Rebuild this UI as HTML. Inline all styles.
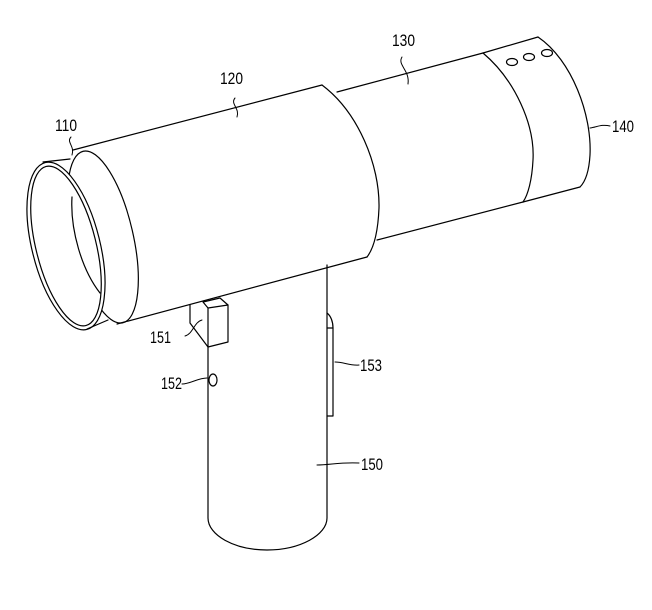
<!DOCTYPE html>
<html><head><meta charset="utf-8"><style>
html,body{margin:0;padding:0;background:#fff;}
svg{display:block}
text{font-family:"Liberation Sans",sans-serif;font-size:17px;fill:#000}
</style></head><body>
<svg width="652" height="610" viewBox="0 0 652 610" fill="none" stroke="#000" stroke-width="1.2" stroke-linejoin="round" stroke-linecap="round">
<!-- 140 segment -->
<path d="M483,53 L538,37"/>
<path d="M538,37 C572,60 592,115 590,155 C589,172 585,182 580,187"/>
<path d="M523,202 L580,187"/>
<path d="M483,53 C515,80 535,125 533,160 C532,180 528,195 523,202"/>
<ellipse cx="512" cy="62" rx="5.5" ry="3.5"/>
<ellipse cx="529" cy="57" rx="5.5" ry="3.5"/>
<ellipse cx="547" cy="53" rx="5.5" ry="3.5"/>
<!-- 130 -->
<path d="M337,92 L483,53"/>
<path d="M377,240 L523,202"/>
<!-- 120 -->
<path d="M73,150 L322,85"/>
<path d="M322,85 C358,112 380,165 379,208 C378,232 374,248 367,257"/>
<path d="M117,324 L367,257"/>
<!-- flange 110 -->
<ellipse cx="103" cy="237" rx="30" ry="88" transform="rotate(-13 103 237)"/>
<ellipse cx="66" cy="246" rx="34" ry="86" transform="rotate(-14 66 246)" fill="#fff"/>
<ellipse cx="66" cy="246" rx="30" ry="82" transform="rotate(-14 66 246)"/>
<path d="M43,162 L70,159"/>
<path d="M87,329 L108,320"/>
<path d="M72,197 C70,230 82,270 100,293"/>
<!-- handle -->
<path d="M327,265 L327,518 C327,535 300,550 267,550 C234,550 208,535 208,518 L208,347"/>
<!-- 153 -->
<path d="M327,313 C331,316 333,322 333,328 L333,416 L327,416"/>
<path d="M327,328 L333,328"/>
<!-- 151 -->
<path d="M190,305 L190,323 L208,347"/>
<path d="M203,302 L220,298 L228,305 L208,308 Z"/>
<path d="M208,308 L208,347 L228,342 L228,305"/>
<!-- 152 -->
<ellipse cx="213" cy="380" rx="4" ry="6"/>
<!-- leaders -->
<path d="M71,137 C66,142 75,146 72,155" stroke-width="1"/>
<path d="M235,98 C230,104 240,108 237,117" stroke-width="1"/>
<path d="M402,57 C397,65 410,70 408,84" stroke-width="1"/>
<path d="M590,128 C597,127 602,124 610,126" stroke-width="1"/>
<path d="M185,336 C193,334 194,322 202,320" stroke-width="1"/>
<path d="M182,384 C190,384 198,378 207,378" stroke-width="1"/>
<path d="M335,362 C344,362 350,366 359,365" stroke-width="1"/>
<path d="M317,465 C330,465 340,462 359,463" stroke-width="1"/>
<g stroke="none">
<text x="55" y="131" textLength="22" lengthAdjust="spacingAndGlyphs">110</text>
<text x="220" y="84" textLength="23" lengthAdjust="spacingAndGlyphs">120</text>
<text x="392" y="46" textLength="23" lengthAdjust="spacingAndGlyphs">130</text>
<text x="612" y="132" textLength="22" lengthAdjust="spacingAndGlyphs">140</text>
<text x="361" y="470" textLength="22" lengthAdjust="spacingAndGlyphs">150</text>
<text x="150" y="343" textLength="21" lengthAdjust="spacingAndGlyphs">151</text>
<text x="161" y="389" textLength="21" lengthAdjust="spacingAndGlyphs">152</text>
<text x="360" y="371" textLength="22" lengthAdjust="spacingAndGlyphs">153</text>
</g>
</svg>
</body></html>
